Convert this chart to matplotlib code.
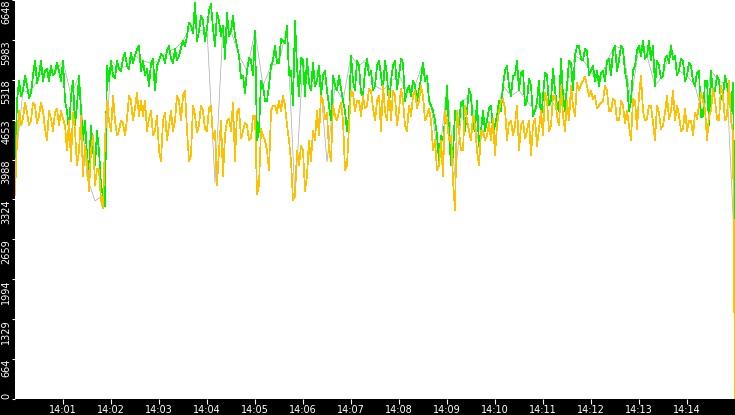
import numpy as np
import matplotlib
matplotlib.use("Agg")
import matplotlib.pyplot as plt

# green series: samples at 14:00:00 + 5 s * i
green_vals = [
    3860, 5300, 5140, 5220, 5100, 5640, 5390, 5300, 5500, 5550,
    5440, 5470, 5640, 4800, 5050, 4560, 5390, 4310, 4060, 4560,
    3890, 4140, 3390, 5550, 5640, 5340, 5500, 5670, 5550, 5770,
    5720, 5880, 5640, 5500, 5590, 5140, 5640, 5720, 5800, 5670,
    5830, 5720, 5970, 6050, 6220, 6600, 6130, 6300, 6170, 6580,
    5880, 6300, 6220, 6430, 6130, 6050, 5720, 5390, 5470, 5640,
    6130, 4470, 5220, 4970, 5550, 5880, 5600, 5970, 6220, 5470,
    6300, 5050, 5640, 5670, 5140, 5220, 5550, 5390, 5140, 4640,
    5220, 5390, 4970, 4470, 5720, 5140, 5550, 5050, 5670, 5470,
    5220, 5640, 5140, 5390, 5300, 5640, 5390, 5600, 5140, 5050,
    5220, 5140, 5600, 5390, 4890, 4640, 3970, 4310, 5220, 3890,
    4800, 4560, 4970, 4800, 5050, 4470, 4220, 4800, 4640, 4890,
    4560, 4970, 5220, 5550, 5050, 5390, 5140, 5470, 4970, 5220,
    4800, 5300, 5050, 5390, 4970, 5140, 4800, 5050, 5220, 5600,
    5720, 5880, 5640, 5800, 5470, 5300, 5220, 5470, 5640, 5390,
    5880, 5640, 5830, 5300, 4970, 5550, 5880, 5970, 5720, 5640,
    5220, 5550, 5390, 5720, 5880, 5720, 5470, 5640, 5390, 5550,
    5220, 5470, 4720, 5300, 5470, 5140, 5300, 5050, 5220, 4800,
    2340,
]
# green series: samples half way between (5 s * i + 2.5 s)
green_mid = [
    4970, 5050, 5390, 5020, 5390, 5270, 5640, 5470, 5300, 5390,
    5600, 5300, 4970, 4470, 5300, 4890, 4800, 4640, 3810, 4140,
    4470, 3560, 3220, 5300, 5390, 5640, 5470, 5770, 5500, 5600,
    5830, 5470, 5390, 5220, 5670, 5550, 5750, 5600, 5880, 5600,
    5640, 5850, 5880, 6270, 6100, 5970, 6380, 5970, 6470, 6170,
    6430, 6050, 5670, 6050, 6380, 5880, 5340, 5100, 5680, 5390,
    4310, 5300, 4970, 5220, 5640, 5600, 6000, 5930, 5390, 4890,
    5550, 5680, 5050, 5270, 5600, 5300, 5050, 5470, 4890, 5390,
    5140, 5170, 4800, 4720, 5300, 5640, 5100, 5470, 5390, 5140,
    5550, 5390, 5640, 4890, 5550, 5170, 5670, 4970, 5220, 5300,
    4970, 5340, 5300, 4970, 4800, 4390, 4390, 4640, 4470, 4060,
    4560, 4940, 4470, 5170, 4560, 4970, 4470, 4470, 4840, 4470,
    4720, 4800, 5470, 5220, 5390, 5640, 5440, 4890, 5340, 4720,
    4940, 4640, 5440, 4890, 5500, 4890, 5670, 4800, 5640, 5140,
    5880, 5670, 5830, 5390, 5550, 5470, 5440, 5300, 5670, 5800,
    5470, 5880, 5440, 4800, 5470, 5800, 5720, 5670, 5970, 5880,
    5640, 5340, 5670, 5600, 5670, 5390, 5670, 5300, 5600, 5300,
    5440, 4690, 5300, 4560, 5050, 5390, 5000, 5390, 5020, 5270,
]

# yellow series: samples at 14:00:00 + 5 s * i
yellow_vals = [
    3390, 4800, 4670, 4770, 4640, 4890, 4720, 4800, 4310, 4670,
    4770, 4560, 4670, 4140, 3970, 4470, 4140, 3720, 3970, 4140,
    3560, 3810, 3180, 4970, 4470, 4640, 4470, 4600, 4670, 4970,
    4840, 4720, 4720, 4470, 4800, 4470, 4140, 4640, 4310, 4800,
    4640, 4970, 5050, 4470, 4060, 4720, 4560, 4800, 4470, 4890,
    4470, 4140, 3720, 4640, 4470, 3970, 4840, 4470, 4560, 4340,
    4720, 3560, 4390, 4140, 4800, 4890, 4970, 5050, 4560, 3970,
    3390, 3890, 4140, 3720, 3970, 4310, 4390, 4970, 4770, 3970,
    4720, 4800, 4640, 3890, 5140, 4800, 4970, 5050, 4890, 5140,
    4640, 5050, 5220, 4640, 4640, 5050, 4800, 4970, 4470, 4720,
    5140, 4970, 5050, 4720, 4640, 4310, 3890, 3720, 4640, 4390,
    3140, 4470, 4140, 4640, 4310, 4560, 3890, 4470, 4390, 4310,
    4060, 4800, 5000, 4310, 4640, 4560, 4140, 4640, 4470, 4060,
    4670, 4500, 4390, 4970, 4560, 5050, 4560, 4720, 4970, 5220,
    4720, 5140, 5300, 5220, 5140, 5050, 4890, 4970, 5140, 4800,
    4970, 4640, 4890, 4800, 4310, 4970, 5050, 4800, 4670, 4890,
    4310, 4770, 4560, 5050, 4800, 4640, 4720, 4500, 4470, 4640,
    4770, 4890, 4970, 4310, 4800, 4970, 4640, 5050, 4720, 4640,
    0,
]
# yellow series: samples half way between
yellow_mid = [
    4310, 4560, 4940, 4560, 4940, 4600, 4940, 4500, 4800, 4470,
    4840, 4800, 4560, 4640, 4770, 3890, 4720, 4220, 3470, 4390,
    3840, 3310, 4310, 4640, 5050, 4390, 4640, 4390, 5050, 4640,
    5100, 4970, 4970, 4670, 4390, 4720, 3970, 4770, 4560, 4470,
    5050, 4640, 5140, 3970, 4890, 4440, 4890, 4500, 4840, 4340,
    3560, 4640, 4390, 4670, 4940, 4770, 4340, 4600, 4310, 4720,
    3420, 4500, 4310, 3810, 4890, 4770, 4800, 4890, 4310, 3310,
    4140, 4220, 3470, 4310, 4470, 4800, 5050, 4670, 4140, 4890,
    4640, 4940, 3810, 4560, 5100, 4970, 4720, 4840, 5170, 4840,
    4970, 4470, 4800, 5140, 5140, 4560, 5170, 4560, 4890, 5050,
    4840, 5220, 4640, 4840, 4140, 3810, 4310, 4800, 4310, 3640,
    4800, 4140, 4890, 4470, 4720, 4140, 4470, 4310, 4600, 4670,
    4560, 4970, 4840, 4600, 4390, 4890, 4560, 4340, 4640, 4560,
    4220, 4800, 5100, 4470, 5050, 4720, 5220, 4470, 4640, 4890,
    5270, 5240, 5370, 5050, 5000, 4840, 4940, 5220, 4800, 5000,
    4640, 4970, 4600, 4560, 5000, 4500, 5390, 4640, 4890, 4600,
    4890, 4500, 4770, 4670, 5140, 4890, 4470, 4840, 4640, 4390,
    4670, 5100, 4840, 4720, 5170, 4670, 5220, 4640, 5300, 4440,
]

# grey series: samples every 10 s
grey_vals = [
    3860, 5140, 5100, 5390, 5500, 5440, 5640, 5050, 5390, 3700,
    3300, 3390, 5640, 5500, 5550, 5720, 5640, 5590, 5640, 5800,
    5830, 5970, 6220, 6130, 6170, 3600, 6220, 6130, 5720, 5470,
    6130, 5220, 5550, 5600, 6220, 3350, 5640, 5140, 5550, 3950,
    5220, 4970, 5720, 5550, 5670, 5220, 5140, 5300, 5390, 5140,
    5220, 5600, 4890, 3970, 5220, 3700, 4970, 5050, 4220, 4640,
    4560, 5220, 5050, 5140, 4970, 4800, 5050, 4970, 4800, 5220,
    5720, 5640, 5470, 5220, 5640, 5880, 5830, 4970, 5880, 5720,
    5220, 5390, 5880, 5470, 5390, 5220, 4720, 5470, 5300, 5220,
    2340,
]

y_tick_vals = np.linspace(0, 6648, 11)
y_tick_labels = ["0", "664", "1329", "1994", "2659", "3324",
                 "3988", "4653", "5318", "5983", "6648"]
x_tick_minutes = list(range(1, 15))


def merge(main, mid):
    out = np.empty(len(main) + len(mid))
    out[0::2] = main
    out[1::2] = mid
    return out


green = merge(green_vals, green_mid)
yellow = merge(yellow_vals, yellow_mid)
t_fast = np.arange(len(green)) * 2.5
t_slow = np.arange(len(grey_vals)) * 10

fig = plt.figure(figsize=(7.35, 4.15), dpi=100, facecolor="black")
ax = fig.add_axes((15 / 735, 16 / 415, 720 / 735, 399 / 415))
ax.set_facecolor("white")

ax.plot(t_slow, grey_vals, color="#a8a8a8", linewidth=0.5)
ax.plot(t_fast, green, color="#00f000", linewidth=0.5, antialiased=False)
ax.plot(t_fast, yellow, color="#ffc000", linewidth=0.5, antialiased=False)

ax.set_xlim(0, 900)
ax.set_ylim(0, 6648)

for s in ax.spines.values():
    s.set_visible(False)

ax.set_xticks([m * 60 for m in x_tick_minutes])
ax.set_xticklabels(["14:%02d" % m for m in x_tick_minutes])
ax.set_yticks(y_tick_vals)
ax.set_yticklabels(y_tick_labels, rotation=90, va="top")

ax.tick_params(axis="x", colors="white", length=3.6, width=0.8,
               pad=0.5, labelsize=7)
ax.tick_params(axis="y", colors="white", length=2.2, width=0.8,
               pad=0.5, labelsize=7)
ax.get_yticklabels()[0].set_va("bottom")

fig.savefig("out.png", dpi=100, facecolor="black")
